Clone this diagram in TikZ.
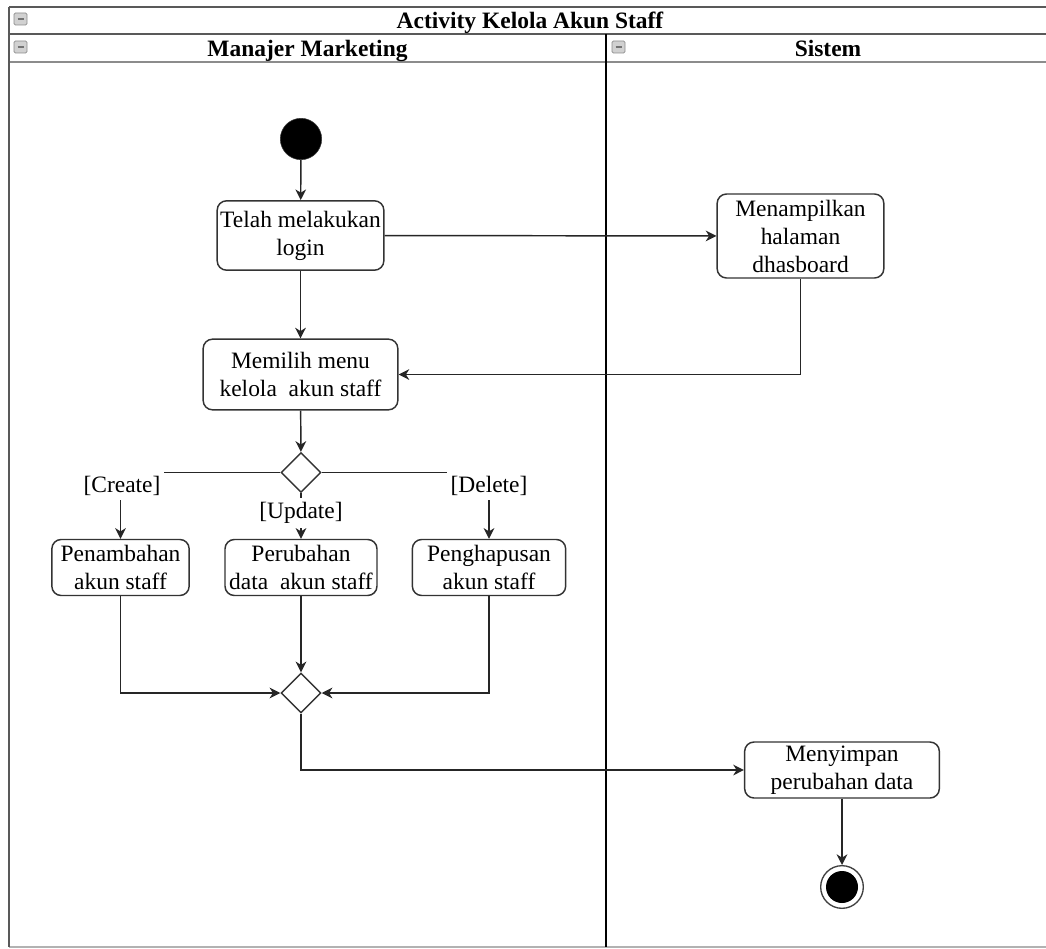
\documentclass[tikz,border=0pt]{standalone}
\usepackage{fontspec}
\setmainfont{Liberation Serif}
\usetikzlibrary{arrows.meta,shapes.geometric}

\tikzset{
  every picture/.style={x=0.75pt,y=-0.75pt},
  lbl/.style={font=\fontsize{17.6}{21}\selectfont,align=center},
  act/.style={lbl,draw=black!80,line width=1.1pt,rounded corners=7pt,fill=white,inner sep=0pt},
  flow/.style={draw=black!85,line width=1.1pt,-{Stealth[length=8pt,width=8pt,inset=2.5pt]}},
  guard/.style={lbl,fill=white,inner sep=3pt},
  gate/.style={diamond,draw=black!80,line width=1.1pt,fill=white,minimum width=30pt,minimum height=30pt,inner sep=0pt},
  frameline/.style={draw=black!65,line width=1.4pt},
  header/.style={font=\bfseries\fontsize{17.6}{21}\selectfont,anchor=base,inner sep=0pt},
  collapser/.style={draw=black!45,fill=black!18,rounded corners=1pt,line width=0.5pt}
}

\newcommand{\collapseicon}[2]{%
  \draw[collapser] (#1,#2) rectangle ++(13,12);
  \draw[black!55,line width=1pt] (#1+3.5,#2+6) -- ++(6,0);
}

\begin{document}
\begin{tikzpicture}
\useasboundingbox (0,0) rectangle (1046,949);
\fill[white] (0,0) rectangle (1046,949);

% pool frame and lanes
\draw[frameline] (9,7) -- (1046,7);
\draw[frameline] (9,34) -- (1046,34);
\draw[draw=black!45,line width=1.4pt] (9,62) -- (1046,62);
\draw[draw=black!30,line width=1.2pt] (9,947) -- (1046,947);
\draw[frameline] (9,7) -- (9,947);
\draw[black,line width=1.4pt] (606,34) -- (606,947);

\node[header] (title) at (530,28.5) {Activity Kelola Akun Staff};
\node[header] (laneA) at (307.5,57) {Manajer Marketing};
\node[header] (laneB) at (828,57) {Sistem};
\collapseicon{14}{13}
\collapseicon{14}{41}
\collapseicon{612}{41}

% activity nodes
\node[circle,fill=black,draw=black!80,minimum size=31pt,inner sep=0pt] (start) at (301,139) {};
\node[act,minimum width=125pt,minimum height=52pt] (login) at (300.5,235.5) {Telah melakukan\\login};
\node[act,minimum width=125pt,minimum height=63pt] (dash) at (800.5,236) {Menampilkan\\halaman\\dhasboard};
\node[act,minimum width=146pt,minimum height=53pt] (menu) at (300.5,374.5) {Memilih menu\\kelola\ \ akun staff};
\node[gate] (split) at (301,472.5) {};
\node[act,minimum width=103pt,minimum height=42pt] (create) at (120.5,567.5) {Penambahan\\akun staff};
\node[act,minimum width=114pt,minimum height=42pt] (update) at (301,567.5) {Perubahan\\data\ \ akun staff};
\node[act,minimum width=115pt,minimum height=42pt] (delete) at (489,567.5) {Penghapusan\\akun staff};
\node[gate] (merge) at (301,693) {};
\node[act,minimum width=146pt,minimum height=42pt] (save) at (842,770) {Menyimpan\\perubahan data};
\node[circle,draw=black!75,line width=1pt,fill=white,minimum size=32pt,inner sep=0pt] (final) at (842,887) {};
\node[circle,fill=black,minimum size=24pt,inner sep=0pt] (finalDot) at (final.center) {};

% control flow
\draw[flow] (start) -- (login);
\draw[flow] (login) -- (dash);
\draw[flow] (dash.south) |- (menu.east);
\draw[flow] (login) -- (menu);
\draw[flow] (menu) -- (split);

\coordinate (cTurn) at (120.5,472.5);
\coordinate (dTurn) at (489,472.5);
\draw[flow] (split.west) -- (cTurn) -- (create.north);
\draw[flow] (split.east) -- (dTurn) -- (delete.north);
\draw[flow] (split.south) -- (update.north);
\node[guard] (gCreate) at (122,486) {[Create]};
\node[guard] (gDelete) at (489,486) {[Delete]};
\node[guard] (gUpdate) at (301,513) {[Update]};

\draw[flow] (create.south) |- (merge.west);
\draw[flow] (delete.south) |- (merge.east);
\draw[flow] (update.south) -- (merge.north);
\draw[flow] (merge.south) |- (save.west);
\draw[flow] (save.south) -- (final.north);
\end{tikzpicture}
\end{document}
